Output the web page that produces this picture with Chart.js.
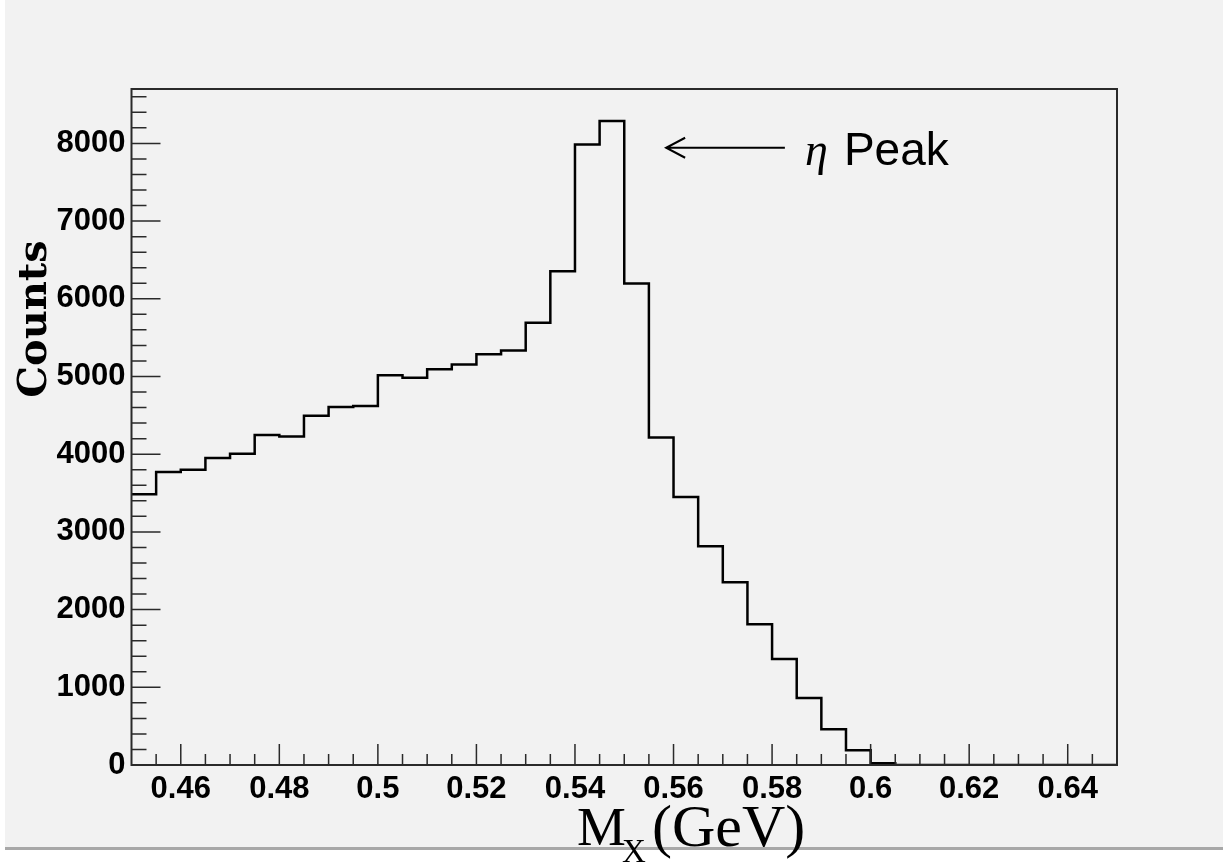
<!DOCTYPE html>
<html lang="en">
<head>
<meta charset="UTF-8">
<title>Missing mass M_X</title>
<script src="https://cdn.jsdelivr.net/npm/chart.js"></script>
<style>
    html, body { margin: 0; padding: 0; background: #ffffff; }
    .wrap { width: 1223px; height: 866px; }
</style>
</head>
<body>
<div class="wrap"><canvas id="hist" width="1223" height="866"></canvas></div>
<script>
// low edges of the 40 bins (GeV) plus the last upper edge
const binEdges = [
    0.450, 0.455, 0.460, 0.465, 0.470, 0.475, 0.480, 0.485, 0.490, 0.495,
    0.500, 0.505, 0.510, 0.515, 0.520, 0.525, 0.530, 0.535, 0.540, 0.545,
    0.550, 0.555, 0.560, 0.565, 0.570, 0.575, 0.580, 0.585, 0.590, 0.595,
    0.600, 0.605, 0.610, 0.615, 0.620, 0.625, 0.630, 0.635, 0.640, 0.645,
    0.650
];
// counts per bin
const counts = [
    3484, 3771, 3801, 3950, 4006, 4246, 4229, 4495, 4606, 4619,
    5017, 4983, 5094, 5155, 5287, 5335, 5691, 6354, 7985, 8289,
    6196, 4216, 3449, 2815, 2352, 1813, 1363, 861, 459, 189,
    22, 0, 0, 0, 0, 0, 0, 0, 0, 0
];
const xTicks = [0.46, 0.48, 0.50, 0.52, 0.54, 0.56, 0.58, 0.60, 0.62, 0.64];
const yTicks = [0, 1000, 2000, 3000, 4000, 5000, 6000, 7000, 8000];
const xRange = [0.45, 0.65];
const yRange = [0, 8700];

// annotation "eta Peak" arrow, in data units
const arrowFrom = { x: 0.5826, y: 7944 };
const arrowTo = { x: 0.5585, y: 7944 };
const peakLabel = 'Peak';

// step points: value of bin i from its low edge to the next edge
const points = counts.map((c, i) => ({ x: binEdges[i], y: c }));
points.push({ x: binEdges[binEdges.length - 1], y: counts[counts.length - 1] });

const frameColor = '#2a2a2a';

// ROOT style canvas: grey pad, frame, inward ticks, titles and the arrow label
const rootLook = {
    id: 'rootLook',
    beforeDraw(chart) {
        const ctx = chart.ctx;
        ctx.save();
        ctx.fillStyle = '#ffffff';
        ctx.fillRect(0, 0, chart.width, chart.height);
        ctx.fillStyle = '#f2f2f2';
        ctx.fillRect(5, 0, chart.width - 5, 848);
        ctx.strokeStyle = '#a8a8a8';
        ctx.lineWidth = 3;
        ctx.beginPath();
        ctx.moveTo(5, 848.5);
        ctx.lineTo(chart.width, 848.5);
        ctx.stroke();
        ctx.restore();
    },
    afterDatasetsDraw(chart) {
        const ctx = chart.ctx;
        const area = chart.chartArea;
        const xs = chart.scales.x;
        const ys = chart.scales.y;
        ctx.save();

        // frame
        ctx.strokeStyle = frameColor;
        ctx.lineWidth = 2;
        ctx.strokeRect(area.left, area.top, area.right - area.left, area.bottom - area.top);

        // x ticks, pointing into the frame
        ctx.lineWidth = 1.5;
        ctx.beginPath();
        for (let k = 0; k <= 40; k++) {
            const v = xRange[0] + k * 0.005;
            const px = xs.getPixelForValue(v);
            if (px <= area.left + 1 || px >= area.right - 1) continue;
            const major = xTicks.some(t => Math.abs(t - v) < 1e-6);
            ctx.moveTo(px, area.bottom);
            ctx.lineTo(px, area.bottom - (major ? 21 : 11));
        }
        // y ticks
        for (let v = 200; v < yRange[1]; v += 200) {
            const py = ys.getPixelForValue(v);
            const major = v % 1000 === 0;
            ctx.moveTo(area.left, py);
            ctx.lineTo(area.left + (major ? 29 : 15), py);
        }
        ctx.stroke();

        // arrow to the peak
        const ax0 = xs.getPixelForValue(arrowFrom.x);
        const ax1 = xs.getPixelForValue(arrowTo.x);
        const ay = ys.getPixelForValue(arrowFrom.y);
        ctx.strokeStyle = '#000';
        ctx.lineWidth = 2;
        ctx.beginPath();
        ctx.moveTo(ax0, ay);
        ctx.lineTo(ax1, ay);
        ctx.moveTo(ax1 + 19, ay - 10);
        ctx.lineTo(ax1, ay);
        ctx.lineTo(ax1 + 19, ay + 10);
        ctx.stroke();

        ctx.fillStyle = '#000';
        ctx.textBaseline = 'alphabetic';
        ctx.textAlign = 'left';
        ctx.font = 'italic 46px "Liberation Serif"';
        ctx.fillText('\u03B7', ax0 + 20, ay + 17);
        ctx.font = '46px "Liberation Sans"';
        ctx.fillText(peakLabel, ax0 + 59, ay + 17);

        // y title
        ctx.save();
        ctx.translate(46, 319);
        ctx.rotate(-Math.PI / 2);
        ctx.textAlign = 'center';
        ctx.font = 'bold 40px "DejaVu Serif"';
        ctx.fillText('Counts', 0, 0);
        ctx.restore();

        // x title: M_X (GeV)
        ctx.textAlign = 'left';
        ctx.font = '55px "Liberation Serif"';
        ctx.fillText('M', 577, 845);
        ctx.font = '33px "Liberation Serif"';
        ctx.fillText('X', 622, 862);
        ctx.font = '60px "Liberation Serif"';
        ctx.fillText('(GeV)', 652, 846);

        ctx.restore();
    }
};

const tickFont = { family: 'Liberation Sans', weight: 'bold', size: 31 };

new Chart(document.getElementById('hist'), {
    type: 'line',
    data: {
        datasets: [{
            data: points,
            stepped: true,
            borderColor: '#000000',
            borderWidth: 2.5,
            pointRadius: 0,
            fill: false
        }]
    },
    options: {
        responsive: false,
        animation: false,
        layout: { padding: { left: 0, top: 89, right: 106, bottom: 0 } },
        plugins: {
            legend: { display: false },
            tooltip: { enabled: false }
        },
        scales: {
            x: {
                type: 'linear',
                min: xRange[0],
                max: xRange[1],
                grid: { display: false, drawTicks: false },
                border: { display: false },
                ticks: {
                    padding: 6,
                    color: '#000',
                    font: tickFont,
                    maxRotation: 0,
                    autoSkip: false,
                    callback: v => String(Number(v.toFixed(2)))
                },
                afterBuildTicks: s => { s.ticks = xTicks.map(v => ({ value: v })); },
                afterFit: s => { s.height = 101; }
            },
            y: {
                min: yRange[0],
                max: yRange[1],
                grid: { display: false, drawTicks: false },
                border: { display: false },
                ticks: {
                    padding: 6,
                    color: '#000',
                    font: tickFont,
                    callback: v => String(v)
                },
                afterBuildTicks: s => { s.ticks = yTicks.map(v => ({ value: v })); },
                afterFit: s => { s.width = 131.5; }
            }
        }
    },
    plugins: [rootLook]
});
</script>
</body>
</html>
